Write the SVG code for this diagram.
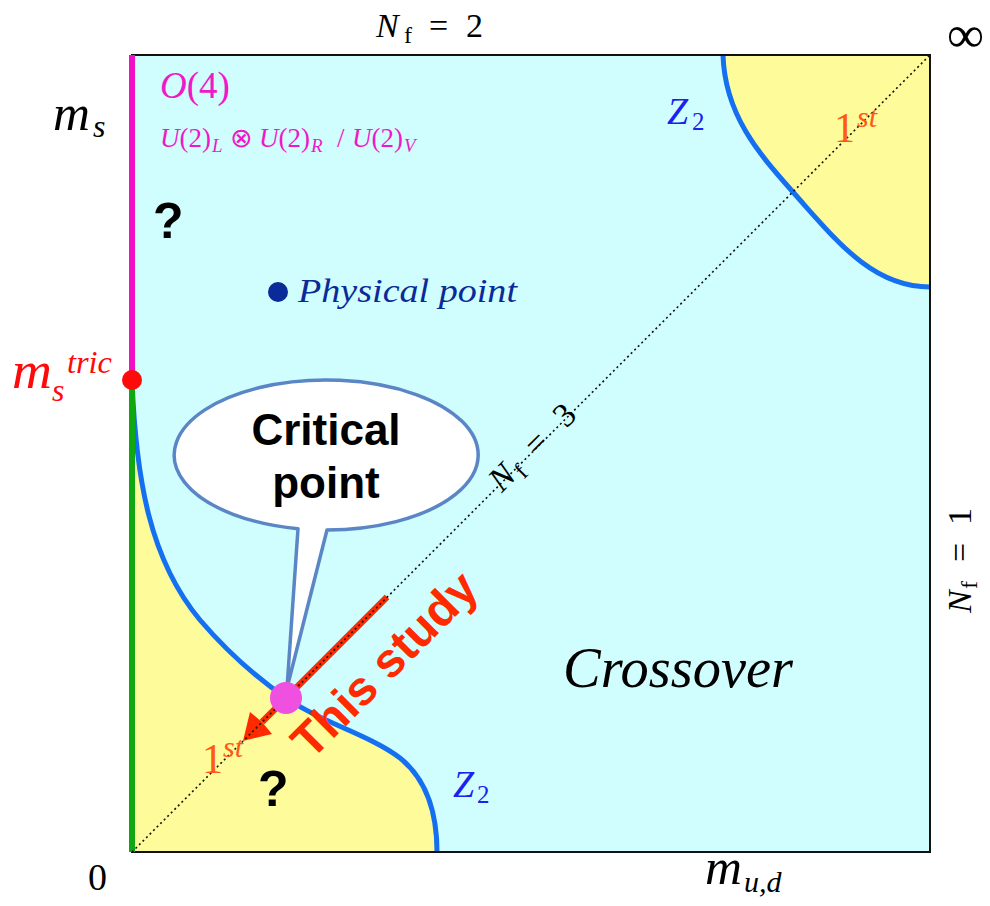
<svg xmlns="http://www.w3.org/2000/svg" width="990" height="906" viewBox="0 0 990 906">
<style>
.serif{font-family:"Liberation Serif","Times New Roman",serif;}
.it{font-style:italic;}
.sans{font-family:"Liberation Sans",Arial,sans-serif;font-weight:bold;}
.curve{fill:none;stroke:#1470f0;stroke-width:5;}
.yellow{fill:#fefb9a;stroke:none;}
.org{fill:#ff5a14;}
.mag{fill:#f018c8;}
.blu{fill:#1a22f0;}
</style>
<rect width="990" height="906" fill="#ffffff"/>
<g id="plot">
<rect x="132" y="55" width="798" height="797" fill="#d0fdfd"/>
<path class="yellow" d="M723,55 C725,120 765,160 800,200 C840,245 875,287 930,287 L930,55 Z"/>
<path class="yellow" d="M132,380 C136,480 150,560 200,620 C230,655 260,680 286,698 C320,722 370,735 400,758 C430,782 437,820 437,852 L132,852 Z"/>
<path class="curve" d="M723,55 C725,120 765,160 800,200 C840,245 875,287 930,287"/>
<path class="curve" d="M132,380 C136,480 150,560 200,620 C230,655 260,680 286,698 C320,722 370,735 400,758 C430,782 437,820 437,852"/>
<rect x="132" y="55" width="798" height="797" fill="none" stroke="#111" stroke-width="2"/>
<line x1="132" y1="55" x2="132" y2="380" stroke="#f010c8" stroke-width="6"/>
<line x1="132" y1="380" x2="132" y2="852" stroke="#10a810" stroke-width="6"/>
</g>
<g id="connectors">
<line x1="387" y1="597" x2="262" y2="722" stroke="#ff2a00" stroke-width="6.5"/>
<path d="M243,741 L250,712 L262,722 L272,734 Z" fill="#ff2a00"/>
<line x1="132" y1="852" x2="930" y2="55" stroke="#111" stroke-width="1.6" stroke-dasharray="2 3"/>
</g>
<g id="callout">
<path d="M298,528.7 A152,75 0 1 1 327,530 L287,688 Z" fill="#ffffff" stroke="#5a86c6" stroke-width="3.5" stroke-linejoin="round"/>
<text class="sans" x="326" y="445" font-size="44" text-anchor="middle" fill="#000">Critical</text>
<text class="sans" x="326" y="498" font-size="44" text-anchor="middle" fill="#000">point</text>
</g>
<g id="tricritical">
<circle cx="132" cy="380" r="10" fill="#ff0a0a"/>
<text class="serif it" x="12" y="388" font-size="52" fill="#ff0a0a" textLength="40" lengthAdjust="spacingAndGlyphs">m</text>
<text class="serif it" x="52" y="401" font-size="32" fill="#ff0a0a">s</text>
<text class="serif it" x="67" y="373" font-size="32" fill="#ff0a0a" textLength="45" lengthAdjust="spacingAndGlyphs">tric</text>
</g>
<g id="critical-point">
<circle cx="286" cy="698" r="16" fill="#f050e0"/>
</g>
<g id="physical-point">
<circle cx="278" cy="292" r="10" fill="#0b2a99"/>
<text class="serif it" x="298" y="302" font-size="34" fill="#0b2a99" textLength="219" lengthAdjust="spacingAndGlyphs">Physical point</text>
</g>
<g id="labels">
<text class="serif" y="37" font-size="34" fill="#000"><tspan class="it" x="376">N</tspan><tspan x="404" y="43" font-size="24">f</tspan><tspan x="429" y="37">=</tspan><tspan x="466">2</tspan></text>
<text class="serif" x="947" y="52" font-size="52" fill="#000">∞</text>
<text class="serif it" x="53" y="130" font-size="50" fill="#000" textLength="37" lengthAdjust="spacingAndGlyphs">m</text>
<text class="serif it" x="93" y="137" font-size="32" fill="#000">s</text>
<text class="serif mag" x="160" y="98" font-size="37"><tspan class="it">O</tspan>(4)</text>
<text class="serif mag" y="147" font-size="27"><tspan class="it" x="160">U</tspan><tspan>(2)</tspan><tspan class="it" x="212" y="152" font-size="19">L</tspan><tspan x="230" y="147">⊗</tspan><tspan class="it" x="259">U</tspan><tspan>(2)</tspan><tspan class="it" x="311" y="152" font-size="19">R</tspan><tspan x="337" y="147">/</tspan><tspan class="it" x="352">U</tspan><tspan>(2)</tspan><tspan class="it" x="404" y="152" font-size="19">V</tspan></text>
<text class="sans" x="153" y="238" font-size="50" fill="#000">?</text>
<text class="sans" x="258" y="806" font-size="50" fill="#000">?</text>
<text class="serif blu" font-size="38"><tspan class="it" x="667" y="124">Z</tspan><tspan x="692" y="130" font-size="25">2</tspan></text>
<text class="serif blu" font-size="38"><tspan class="it" x="453" y="797">Z</tspan><tspan x="477" y="803" font-size="25">2</tspan></text>
<text class="serif org" font-size="42"><tspan x="834" y="142">1</tspan><tspan class="it" x="857" y="127" font-size="30">st</tspan></text>
<text class="serif org" font-size="42"><tspan x="202" y="773">1</tspan><tspan class="it" x="223" y="757" font-size="30">st</tspan></text>
<text class="serif it" x="563" y="687" font-size="56" fill="#000" textLength="230" lengthAdjust="spacingAndGlyphs">Crossover</text>
<text class="serif" font-size="34" fill="#000" transform="rotate(-45 540 455)"><tspan class="it" x="486" y="455">N</tspan><tspan x="511" y="461" font-size="24">f</tspan><tspan x="536" y="455">=</tspan><tspan x="577">3</tspan></text>
<text class="serif" font-size="34" fill="#000" transform="rotate(-90 971 560)"><tspan class="it" x="918" y="560">N</tspan><tspan x="942" y="566" font-size="24">f</tspan><tspan x="969" y="560">=</tspan><tspan x="1006">1</tspan></text>
<text class="sans" x="396" y="676" font-size="48" fill="#ff2a00" text-anchor="middle" transform="rotate(-45 396 676)">This study</text>
<text class="serif" x="88" y="890" font-size="38" fill="#000">0</text>
<text class="serif it" x="705" y="884" font-size="50" fill="#000" textLength="37" lengthAdjust="spacingAndGlyphs">m</text>
<text class="serif it" x="744" y="892" font-size="30" fill="#000">u,d</text>
</g>
</svg>
